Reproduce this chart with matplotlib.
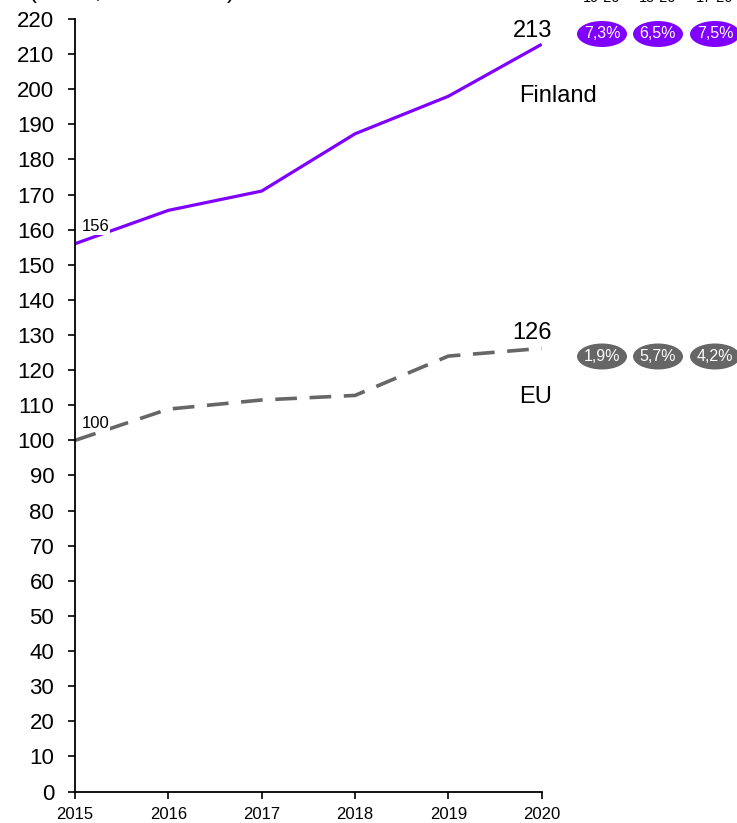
import matplotlib
matplotlib.use("Agg")
import matplotlib.pyplot as plt
from matplotlib.patches import Ellipse

plt.rcParams['font.family'] = ['Liberation Sans', 'DejaVu Sans']

years = [2015, 2016, 2017, 2018, 2019, 2020]
finland = [156, 165.5, 171, 187.3, 198, 212.8]
eu = [100, 108.9, 111.5, 112.8, 124, 126.2]
finland_cagr = ["7,3%", "6,5%", "7,5%"]
eu_cagr = ["1,9%", "5,7%", "4,2%"]
period_labels = ["19-20", "15-20", "17-20"]
y_ticks = list(range(0, 221, 10))

purple = "#7F00FF"
grey = "#666666"

W, H = 737, 823
fig = plt.figure(figsize=(W / 100, H / 100), dpi=100)
ax = fig.add_axes([75 / W, 31.5 / H, 466.7 / W, 772.5 / H])

ax.plot(years, finland, color=purple, lw=2.3, solid_capstyle='butt')
ax.plot(years, eu, color=grey, lw=2.6, dashes=(6, 3.5))

ax.set_xlim(2015, 2020)
ax.set_ylim(0, 220)
ax.set_yticks(y_ticks)
ax.set_xticks(years)
ax.tick_params(axis='y', labelsize=16, direction='out', length=5, width=1.2, pad=10)
ax.tick_params(axis='x', labelsize=12, direction='out', length=5, width=1.2, pad=6)
for s in ['top', 'right']:
    ax.spines[s].set_visible(False)
for s in ['left', 'bottom']:
    ax.spines[s].set_linewidth(1.3)

bbox = dict(facecolor='white', edgecolor='none', pad=0.5)
ax.text(2015.07, finland[0] + 3.5, "156", fontsize=12, ha='left', va='baseline', bbox=bbox)
ax.text(2015.07, eu[0] + 3.5, "100", fontsize=12, ha='left', va='baseline', bbox=bbox)
ax.text(2019.9, 214.8, "213", fontsize=17, ha='center', va='baseline')
ax.text(2019.9, 128.8, "126", fontsize=17, ha='center', va='baseline')
ax.text(2019.755, 196.4, "Finland", fontsize=17, ha='left', va='baseline')
ax.text(2019.755, 110.6, "EU", fontsize=17, ha='left', va='baseline')

# growth-rate ellipses, placed in figure pixel coordinates
cx = [602, 658, 715]
for vals, ypx, col in [(finland_cagr, 34, purple), (eu_cagr, 356.5, grey)]:
    for x, v in zip(cx, vals):
        e = Ellipse((x / W, 1 - ypx / H), 50 / W, 26 / H, transform=fig.transFigure,
                    facecolor=col, edgecolor='none', clip_on=False)
        fig.add_artist(e)
        fig.text(x / W, 1 - ypx / H, v, color='white', fontsize=11.5, ha='center', va='center')

# headers cut off at the top edge, as in the reference
for x, p in zip(cx, period_labels):
    fig.text(x / W, 1 - 1.5 / H, p, fontsize=10.5, ha='center', va='baseline')
fig.text(29 / W, 1 + 2 / H, "(Index, 2015 = 100)", fontsize=17, ha='left', va='baseline')

fig.savefig("out.png", dpi=100)
